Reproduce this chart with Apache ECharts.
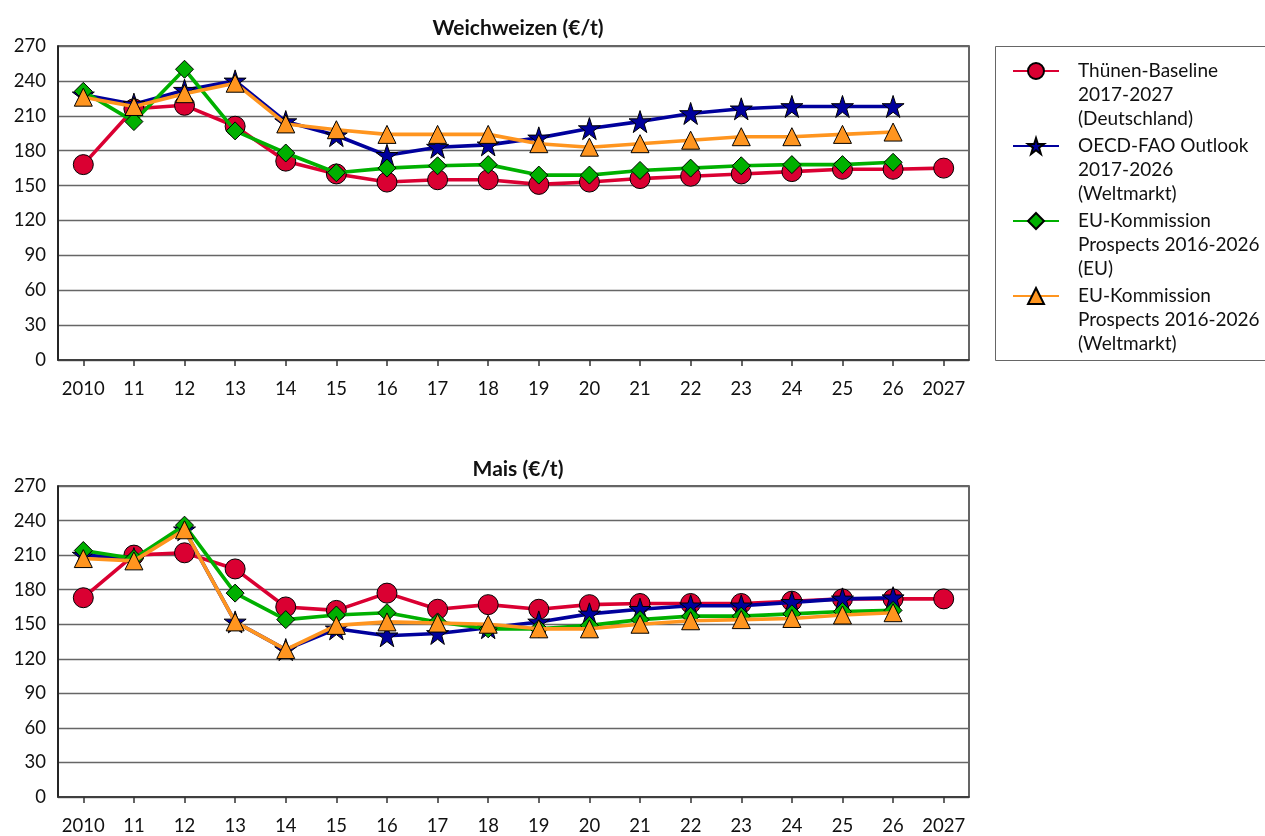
<!DOCTYPE html>
<html>
<head>
<meta charset="utf-8">
<script src="https://cdn.jsdelivr.net/npm/echarts@6/dist/echarts.min.js"></script>
<style>
  html, body { margin: 0; padding: 0; background: #fff; }
  #chart { width: 1265px; height: 836px; }
</style>
</head>
<body>
<div id="chart"></div>
<script>
var years = ['2010', '11', '12', '13', '14', '15', '16', '17', '18', '19', '20', '21', '22', '23', '24', '25', '26', '2027'];
var yTicks = [0, 30, 60, 90, 120, 150, 180, 210, 240, 270];

var seriesNames = [
    'Thünen-Baseline\n2017-2027\n(Deutschland)',
    'OECD-FAO Outlook\n2017-2026\n(Weltmarkt)',
    'EU-Kommission\nProspects 2016-2026\n(EU)',
    'EU-Kommission\nProspects 2016-2026\n(Weltmarkt)'
];

// Weichweizen (€/t)
var wheatThuenen = [168, 216, 219, 201, 171, 160, 153, 155, 155, 151, 153, 156, 158, 160, 162, 164, 164, 165];
var wheatOecd    = [228, 220, 232, 240, 205, 193, 176, 183, 185, 191, 199, 205, 212, 216, 218, 218, 218];
var wheatEuEu    = [231, 205, 250, 197, 178, 161, 165, 167, 168, 159, 159, 163, 165, 167, 168, 168, 170];
var wheatEuWelt  = [226, 218, 229, 238, 203, 198, 194, 194, 194, 186, 183, 186, 189, 192, 192, 194, 196];

// Mais (€/t)
var maizeThuenen = [173, 210, 212, 198, 165, 162, 177, 163, 167, 163, 167, 168, 168, 168, 170, 172, 172, 172];
var maizeOecd    = [210, 207, 232, 152, 128, 146, 140, 142, 147, 152, 159, 163, 166, 166, 169, 172, 173];
var maizeEuEu    = [214, 207, 236, 177, 154, 158, 160, 152, 146, 146, 149, 154, 157, 157, 159, 161, 162];
var maizeEuWelt  = [207, 205, 232, 152, 128, 149, 152, 151, 150, 146, 146, 150, 153, 154, 155, 158, 160];

var colors = ['#DA0032', '#00009C', '#00B000', '#FF951F'];
var symbols = ['circle', 'path://M50,0 L61.8,35.5 L100,35.5 L69.1,57.5 L80.9,95 L50,72.5 L19.1,95 L30.9,57.5 L0,35.5 L38.2,35.5 Z', 'diamond', 'triangle'];
var symbolSizes = [20, 22, 18, 18];

var fontFamily = 'Lato, "Open Sans", sans-serif';

function makeSeries(idx, values, axisIdx) {
    return {
        name: seriesNames[idx],
        type: 'line',
        xAxisIndex: axisIdx,
        yAxisIndex: axisIdx,
        data: values,
        symbol: symbols[idx],
        symbolSize: symbolSizes[idx],
        showAllSymbol: true,
        z: 2 + idx,
        lineStyle: { width: 3.6, color: colors[idx] },
        itemStyle: { color: colors[idx], borderColor: '#000', borderWidth: 1 },
        emphasis: { disabled: true },
        animation: false
    };
}

function makeXAxis(gridIdx) {
    return {
        type: 'category',
        gridIndex: gridIdx,
        data: years,
        boundaryGap: true,
        axisLine: { lineStyle: { color: '#333', width: 1.5 } },
        axisTick: { show: true, alignWithLabel: true, length: 6, lineStyle: { color: '#333', width: 1.5 } },
        axisLabel: { color: '#111', fontSize: 18.5, fontFamily: fontFamily, margin: 20, interval: 0 },
        splitLine: { show: false }
    };
}

function makeYAxis(gridIdx) {
    return {
        type: 'value',
        gridIndex: gridIdx,
        min: yTicks[0],
        max: yTicks[yTicks.length - 1],
        interval: 30,
        axisLine: { show: true, lineStyle: { color: '#111', width: 1.5 } },
        axisTick: { show: false },
        axisLabel: { color: '#111', fontSize: 18.5, fontFamily: fontFamily, margin: 12 },
        splitLine: { show: true, lineStyle: { color: '#666', width: 1.4 } }
    };
}

var chart = echarts.init(document.getElementById('chart'));

var option = {
    backgroundColor: '#fff',
    animation: false,
    title: [
        {
            text: 'Weichweizen (€/t)',
            left: 513, top: 13, textAlign: 'center',
            textStyle: { fontSize: 21, fontWeight: 'bold', color: '#111', fontFamily: fontFamily }
        },
        {
            text: 'Mais (€/t)',
            left: 513, top: 454, textAlign: 'center',
            textStyle: { fontSize: 21, fontWeight: 'bold', color: '#111', fontFamily: fontFamily }
        }
    ],
    grid: [
        { left: 58, top: 46, width: 911, height: 314, show: true, borderColor: '#333', borderWidth: 1.5, backgroundColor: '#fff' },
        { left: 58, top: 486, width: 911, height: 314, show: true, borderColor: '#333', borderWidth: 1.5, backgroundColor: '#fff' }
    ],
    legend: {
        orient: 'vertical',
        left: 1012,
        top: 11,
        padding: 0,
        itemGap: -45,
        itemWidth: 46,
        itemHeight: 20,
        selectedMode: false,
        data: seriesNames,
        // two blank lines on top so the icon sits level with the first text line
        formatter: function (name) { return '\n\n' + name; },
        textStyle: {
            fontSize: 19,
            lineHeight: 24,
            color: '#111',
            fontFamily: fontFamily,
            padding: [0, 0, 0, 14]
        }
    },
    graphic: [
        {
            type: 'rect',
            shape: { x: 995.5, y: 46.5, width: 275, height: 314 },
            style: { fill: 'none', stroke: '#666', lineWidth: 1 },
            silent: true
        }
    ],
    xAxis: [makeXAxis(0), makeXAxis(1)],
    yAxis: [makeYAxis(0), makeYAxis(1)],
    series: [
        makeSeries(0, wheatThuenen, 0),
        makeSeries(1, wheatOecd, 0),
        makeSeries(2, wheatEuEu, 0),
        makeSeries(3, wheatEuWelt, 0),
        makeSeries(0, maizeThuenen, 1),
        makeSeries(1, maizeOecd, 1),
        makeSeries(2, maizeEuEu, 1),
        makeSeries(3, maizeEuWelt, 1)
    ]
};

chart.setOption(option);
</script>
</body>
</html>
